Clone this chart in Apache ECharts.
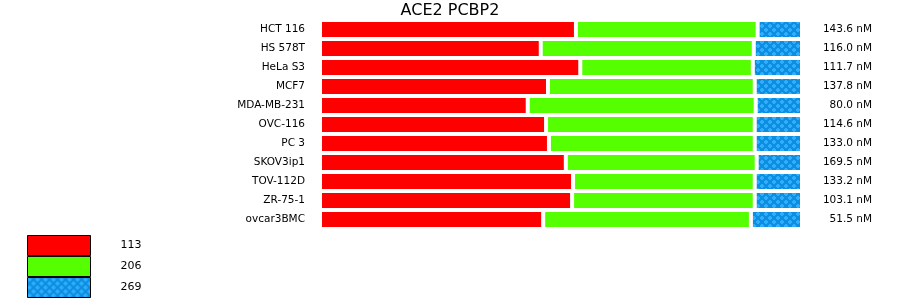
<!DOCTYPE html>
<html>
<head>
<meta charset="utf-8">
<script src="https://cdn.jsdelivr.net/npm/echarts@6/dist/echarts.min.js"></script>
<style>
html,body{margin:0;padding:0;background:#fff;}
#chart{width:900px;height:299px;}
</style>
</head>
<body>
<div id="chart"></div>
<script>
const titleText = 'ACE2 PCBP2';
const categories = ['HCT 116','HS 578T','HeLa S3','MCF7','MDA-MB-231','OVC-116','PC 3','SKOV3ip1','TOV-112D','ZR-75-1','ovcar3BMC'];
const concLabels = ['143.6 nM','116.0 nM','111.7 nM','137.8 nM','80.0 nM','114.6 nM','133.0 nM','169.5 nM','133.2 nM','103.1 nM','51.5 nM'];
const seriesNames = ['113','206','269'];
const values113 = [53.1,45.8,54.0,47.3,43.1,46.9,47.5,51.0,52.5,52.3,46.3];
const values206 = [37.7,44.2,35.8,42.9,47.3,43.3,42.7,39.6,37.7,37.9,43.1];
const values269 = [9.2,10.0,10.2,9.8,9.6,9.8,9.8,9.4,9.8,9.8,10.6];

function makePattern(){
  const c = document.createElement('canvas');
  c.width = 8; c.height = 8;
  const g = c.getContext('2d');
  g.fillStyle = '#0d8ee0';
  g.fillRect(0,0,8,8);
  g.fillStyle = '#2eaefc';
  function blob(x,y){
    g.fillRect(x,y-1,2,4);
    g.fillRect(x-1,y,4,2);
  }
  blob(1,1);
  blob(5,5);
  return {image:c, repeat:'repeat'};
}

const colors = ['#ff0000','#55ff00',makePattern()];
const seriesData = [values113, values206, values269];
const font = 'DejaVu Sans';

const chart = echarts.init(document.getElementById('chart'), null, {renderer:'canvas'});
chart.setOption({
  animation:false,
  title:{text:titleText,left:'center',top:3,padding:0,
    textStyle:{fontFamily:font,fontSize:16,fontWeight:'normal',color:'#000'}},
  grid:{left:320,right:98,top:20,bottom:70,containLabel:false},
  xAxis:{type:'value',min:0,max:100,show:false},
  yAxis:[
    {type:'category',data:categories,inverse:true,position:'left',
      axisLine:{show:false},axisTick:{show:false},splitLine:{show:false},
      axisLabel:{margin:15,fontFamily:font,fontSize:10.5,color:'#000'}},
    {type:'category',data:concLabels,inverse:true,position:'right',
      axisLine:{show:false},axisTick:{show:false},splitLine:{show:false},
      axisLabel:{margin:70,align:'right',fontFamily:font,fontSize:10.5,color:'#000'}}
  ],
  legend:{orient:'vertical',left:27,top:235,padding:0,itemGap:0,itemWidth:63,itemHeight:20,
    data:seriesNames.map(n=>({name:n,icon:'rect',itemStyle:{borderColor:'#000',borderWidth:1}})),
    textStyle:{fontFamily:font,fontSize:11,color:'#000',padding:[0,0,0,25]},
    selectedMode:false},
  series:seriesNames.map((n,i)=>({
    name:n,type:'bar',stack:'total',yAxisIndex:0,
    barWidth:19,barCategoryGap:0,
    data:seriesData[i],
    itemStyle:{color:colors[i],borderColor:'#fff',borderWidth:2},
    emphasis:{disabled:true}
  }))
});
</script>
</body>
</html>
